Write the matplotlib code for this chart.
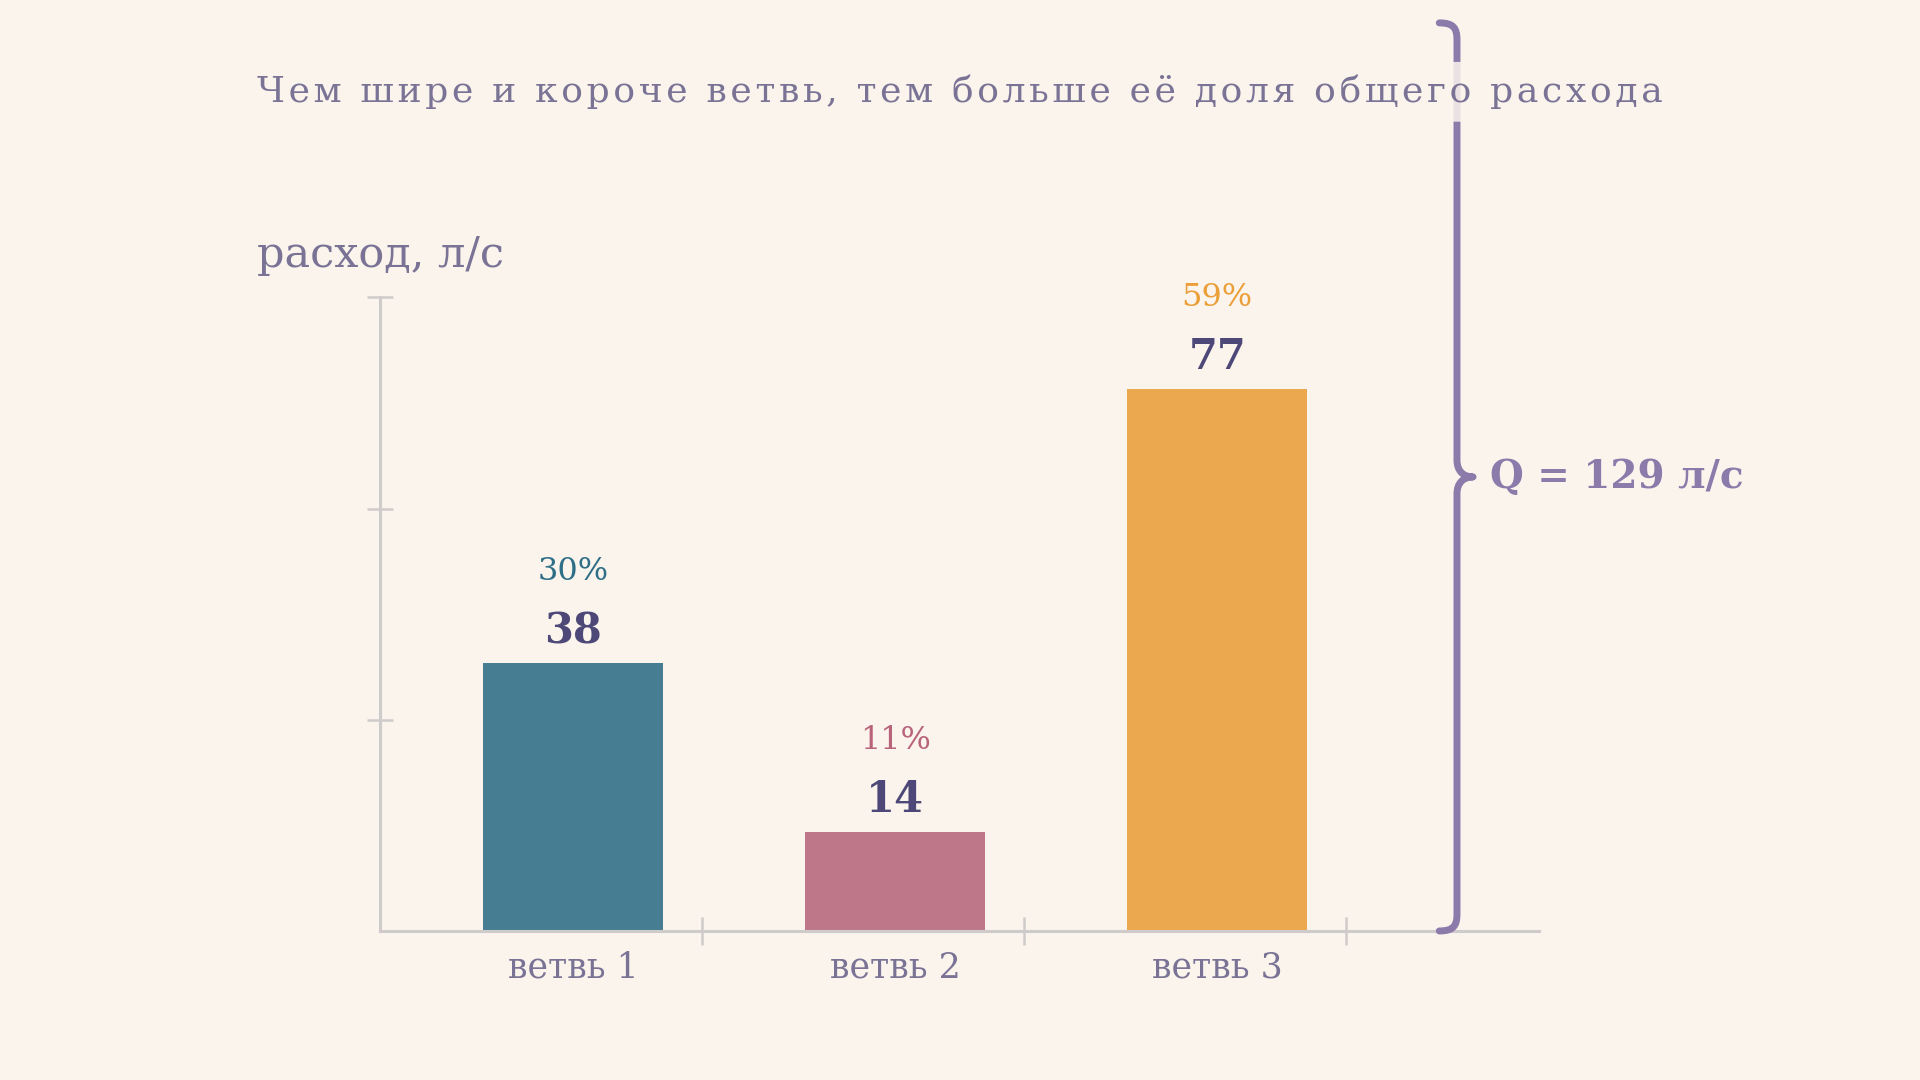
import matplotlib
matplotlib.use("Agg")
import matplotlib.pyplot as plt
from matplotlib.path import Path
from matplotlib.patches import PathPatch

# данные
categories = ["ветвь 1", "ветвь 2", "ветвь 3"]
flows = [38, 14, 77]
shares = [30, 11, 59]
total = 129

bar_colors = ["#477d92", "#be7789", "#eba84f"]
share_colors = ["#2e6f87", "#b9637b", "#eb9f38"]
bg = "#faf4ed"
text_col = "#7a7395"
value_col = "#4d4877"
axis_col = "#d0cbcb"
brace_col = "#8c7aab"

plt.rcParams["font.family"] = ["DejaVu Serif"]


def spaced(s, sep="\u200a"):
    return sep.join(s)


fig = plt.figure(figsize=(19.2, 10.8), dpi=100, facecolor=bg)
ax = fig.add_axes([0.198, 0.138, 0.6036, 0.5866])
ax.set_facecolor(bg)

x = [1, 2, 3]
ax.bar(x, flows, width=0.56, color=bar_colors, zorder=2)

ax.set_xlim(0.4, 4.0)
ax.set_ylim(0, 90)
for s in ["top", "right"]:
    ax.spines[s].set_visible(False)
for s in ["left", "bottom"]:
    ax.spines[s].set_color(axis_col)
    ax.spines[s].set_linewidth(2.2)

ax.set_yticks([30, 60, 90])
ax.set_yticklabels([])
ax.tick_params(axis="y", direction="inout", length=19, width=1.8, color=axis_col)

ax.set_xticks([1.4, 2.4, 3.4])
ax.set_xticklabels([])
ax.tick_params(axis="x", which="major", direction="inout", length=20, width=1.8, color=axis_col)
ax.set_xticks(x, minor=True)
ax.set_xticklabels(categories, minor=True, fontsize=25, color=text_col)
ax.tick_params(axis="x", which="minor", length=0, pad=14)

for xi, v, p, c in zip(x, flows, shares, share_colors):
    ax.annotate(str(v), (xi, v), xytext=(0, 23), textcoords="offset points",
                ha="center", va="center", fontsize=30, fontweight="bold", color=value_col)
    ax.annotate(f"{p}%", (xi, v), xytext=(0, 66), textcoords="offset points",
                ha="center", va="center", fontsize=23, color=c)

# фигурная скобка на весь расход
x0, w, d, h = 3.745, 0.055, 0.05, 2.4
ym = total / 2
verts = [
    (x0 - w, total),
    (x0 - w * 0.2, total), (x0, total - h * 0.3), (x0, total - h),
    (x0, ym + h),
    (x0, ym + h * 0.35), (x0 + d * 0.4, ym), (x0 + d, ym),
    (x0 + d * 0.4, ym), (x0, ym - h * 0.35), (x0, ym - h),
    (x0, h),
    (x0, h * 0.3), (x0 - w * 0.2, 0), (x0 - w, 0),
]
codes = [Path.MOVETO,
         Path.CURVE4, Path.CURVE4, Path.CURVE4,
         Path.LINETO,
         Path.CURVE4, Path.CURVE4, Path.CURVE4,
         Path.CURVE4, Path.CURVE4, Path.CURVE4,
         Path.LINETO,
         Path.CURVE4, Path.CURVE4, Path.CURVE4]
brace = PathPatch(Path(verts, codes), facecolor="none", edgecolor=brace_col,
                  lw=5, capstyle="round", joinstyle="round", clip_on=False, zorder=3)
ax.add_patch(brace)

ax.annotate(f"Q = {total} л/с", (x0 + d, ym), xytext=(12, 0),
            textcoords="offset points", ha="left", va="center",
            fontsize=28, fontweight="bold", color=brace_col)

fig.text(0.5, 0.915, spaced("Чем шире и короче ветвь, тем больше её доля общего расхода"),
         ha="center", va="center", fontsize=26, color=text_col, zorder=5,
         bbox=dict(boxstyle="round,pad=0.35", facecolor=bg, edgecolor="none", alpha=0.85))

fig.text(0.134, 0.764, "расход, л/с", ha="left", va="center", fontsize=31, color=text_col)

fig.savefig("out.png", dpi=100, facecolor=bg)
